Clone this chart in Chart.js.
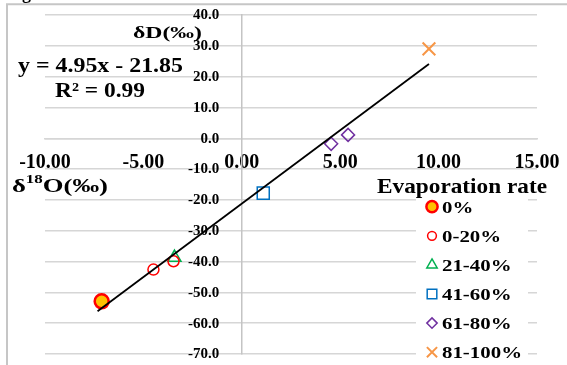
<!DOCTYPE html>
<html>
<head>
<meta charset="utf-8">
<script src="https://cdn.jsdelivr.net/npm/chart.js@4.4.1/dist/chart.umd.min.js"></script>
<style>
  html, body { margin: 0; padding: 0; background: #fff; }
  #wrap { width: 567px; height: 365px; position: relative; background: #fff; }
  #over { position: absolute; left: 0; top: 0; pointer-events: none; }
</style>
</head>
<body>
<div id="wrap">
  <canvas id="chart" width="567" height="365"></canvas>
  <canvas id="over" width="567" height="365"></canvas>
</div>
<script>
// values: δ18O (x) and δD (y), per evaporation class
const seriesNames = ['0%', '0-20%', '21-40%', '41-60%', '61-80%', '81-100%'];
const x0 = [-7.12],          y0 = [-52.9];
const x20 = [-4.49, -3.47],  y20 = [-42.6, -39.9];
const x40 = [-3.42],         y40 = [-38.7];
const x60 = [1.09],          y60 = [-17.8];
const x80 = [4.54, 5.40],    y80 = [-1.8, 1.1];
const x100 = [9.51],         y100 = [29.0];

// trend line ends as drawn
const trendX = [-7.33, 9.51];
const trendY = [-56.1, 24.1];

// tick values and their labels
const xTicks = [-10, -5, 0, 5, 10, 15];
const xTickLabels = ['-10.00', '-5.00', '0.00', '5.00', '10.00', '15.00'];
const yTicks = [40, 30, 20, 10, 0, -10, -20, -30, -40, -50, -60, -70];
const yTickLabels = ['40.0', '30.0', '20.0', '10.0', '0.0', '-10.0', '-20.0', '-30.0', '-40.0', '-50.0', '-60.0', '-70.0'];

const SERIF = '"Liberation Serif", "Times New Roman", serif';

function pts(xs, ys) {
  return xs.map((x, i) => ({ x: x, y: ys[i] }));
}

// marker look of each class
const looks = [
  { pointStyle: 'circle',   radius: 7,   bg: '#FFC000', border: '#FF0000', bw: 2.5 },
  { pointStyle: 'circle',   radius: 5.5, bg: 'rgba(255,255,255,0)', border: '#FF0000', bw: 1.5 },
  { pointStyle: 'triangle', radius: 7.5, bg: 'rgba(255,255,255,0)', border: '#00B050', bw: 1.5 },
  { pointStyle: 'rect',     radius: 8.5, bg: 'rgba(255,255,255,0)', border: '#0070C0', bw: 1.5 },
  { pointStyle: 'rectRot',  radius: 6.5, bg: 'rgba(255,255,255,0)', border: '#7030A0', bw: 1.5 },
  { pointStyle: 'crossRot', radius: 9,   bg: 'rgba(255,255,255,0)', border: '#F79646', bw: 2 }
];
const seriesData = [pts(x0, y0), pts(x20, y20), pts(x40, y40), pts(x60, y60), pts(x80, y80), pts(x100, y100)];

const datasets = [{
  label: 'trend',
  type: 'line',
  data: pts(trendX, trendY),
  borderColor: '#000',
  borderWidth: 1.8,
  pointRadius: 0,
  fill: false,
  order: -1
}];
seriesNames.forEach((name, i) => {
  const lk = looks[i];
  datasets.push({
    label: name,
    data: seriesData[i],
    pointStyle: lk.pointStyle,
    pointRadius: lk.radius,
    pointBackgroundColor: lk.bg,
    pointBorderColor: lk.border,
    pointBorderWidth: lk.bw,
    order: 1
  });
});

const chart = new Chart(document.getElementById('chart'), {
  type: 'scatter',
  data: { datasets: datasets },
  options: {
    responsive: false,
    animation: false,
    layout: { padding: { left: 45, right: 30, top: 15, bottom: 11 } },
    plugins: {
      legend: { display: false },
      tooltip: { enabled: false }
    },
    scales: {
      x: {
        type: 'linear',
        position: { y: 0 },
        min: -10,
        max: 15,
        afterBuildTicks: (s) => { s.ticks = xTicks.map(v => ({ value: v })); },
        ticks: {
          callback: (v) => xTickLabels[xTicks.indexOf(v)],
          color: '#000',
          // tall line height pushes the labels below the zero line
          font: { family: SERIF, weight: 'bold', size: 20, lineHeight: 2.37 },
          padding: 1,
          maxRotation: 0,
          autoSkip: false
        },
        grid: { display: false, drawTicks: false },
        border: { display: true, color: '#d6d6d6', width: 1.5 }
      },
      y: {
        type: 'linear',
        position: { x: 0 },
        min: -70,
        max: 40,
        afterBuildTicks: (s) => { s.ticks = yTicks.map(v => ({ value: v })); },
        // labels are written on the overlay, left of the crossing axis
        ticks: { display: false },
        grid: { color: '#d6d6d6', lineWidth: 1.5, drawTicks: false },
        border: { display: true, color: '#c4c4c4', width: 1.5 }
      }
    }
  }
});

// ---- texts, frame and legend on a canvas laid over the chart ----
const ctx = document.getElementById('over').getContext('2d');

// text stretched to a given width (the source picture is widened)
function fitText(str, left, baseline, size, width) {
  ctx.font = 'bold ' + size + 'px ' + SERIF;
  const w = ctx.measureText(str).width;
  ctx.save();
  ctx.translate(left, baseline);
  ctx.scale(width / w, 1);
  ctx.fillText(str, 0, 0);
  ctx.restore();
}

// frame of the figure
ctx.strokeStyle = '#c6c6c6';
ctx.lineWidth = 2;
ctx.beginPath();
ctx.moveTo(7, 365);
ctx.lineTo(7, 4.3);
ctx.lineTo(567, 4.3);
ctx.stroke();

ctx.fillStyle = '#000';
ctx.textBaseline = 'alphabetic';
ctx.textAlign = 'left';
// caption above, mostly cut off
ctx.font = 'bold 18px ' + SERIF;
ctx.fillText('Fig', 6, -1);

// y tick labels placed by the chart's scales
const axisX = chart.scales.x.getPixelForValue(0);
ctx.save();
ctx.font = 'bold 15px ' + SERIF;
ctx.textAlign = 'right';
ctx.textBaseline = 'middle';
yTicks.forEach((v, i) => {
  ctx.fillText(yTickLabels[i], axisX - 22.5, chart.scales.y.getPixelForValue(v) + 0.5);
});
ctx.restore();

fitText('δD(‰)', 133, 37.5, 16, 69);
fitText('y = 4.95x - 21.85', 18, 71.5, 22, 165);
fitText('R² = 0.99', 55, 96.5, 21, 90);

// δ18O(‰) with superscript
ctx.font = 'bold 19px ' + SERIF;
const wa = ctx.measureText('δ').width;
const wc = ctx.measureText('O(‰)').width;
ctx.font = 'bold 12px ' + SERIF;
const wb = ctx.measureText('18').width;
ctx.save();
ctx.translate(12, 191.5);
ctx.scale(96 / (wa + wb + wc), 1);
ctx.font = 'bold 19px ' + SERIF;
ctx.fillText('δ', 0, 0);
ctx.font = 'bold 12px ' + SERIF;
ctx.fillText('18', wa, -8.5);
ctx.font = 'bold 19px ' + SERIF;
ctx.fillText('O(‰)', wa + wb, 0);
ctx.restore();

// legend
ctx.fillStyle = '#fff';
ctx.fillRect(416, 196, 112, 169);
ctx.fillStyle = '#000';
fitText('Evaporation rate', 377, 192.5, 21, 170);

ctx.font = 'bold 17.5px ' + SERIF;
const lsx = 80 / ctx.measureText('81-100%').width;
seriesNames.forEach((name, i) => {
  const base = 212.7 + i * 29.1;
  const lk = looks[i];
  ctx.save();
  ctx.fillStyle = lk.bg;
  ctx.strokeStyle = lk.border;
  ctx.lineWidth = lk.bw;
  Chart.helpers.drawPoint(ctx, {
    pointStyle: lk.pointStyle,
    radius: lk.radius * 0.8,
    rotation: 0,
    borderWidth: lk.bw
  }, 432, base - 6);
  ctx.restore();
  ctx.save();
  ctx.fillStyle = '#000';
  ctx.font = 'bold 17.5px ' + SERIF;
  ctx.translate(442, base);
  ctx.scale(lsx, 1);
  ctx.fillText(name, 0, 0);
  ctx.restore();
});
</script>
</body>
</html>
